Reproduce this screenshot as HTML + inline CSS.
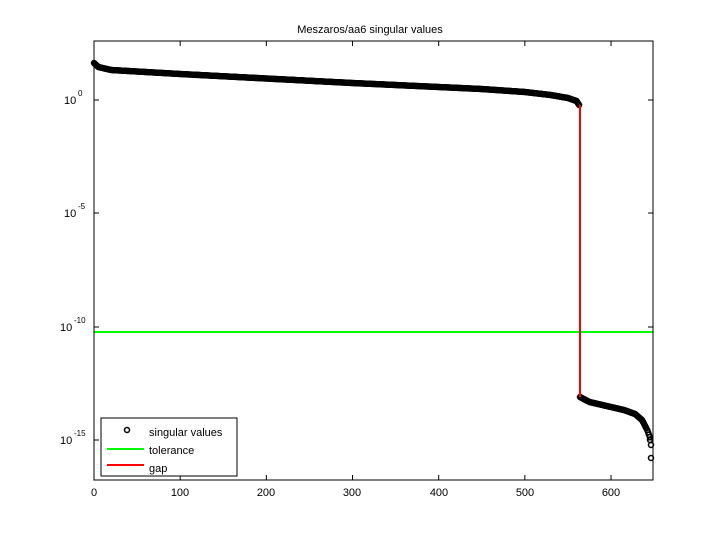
<!DOCTYPE html>
<html><head><meta charset="utf-8"><style>body{margin:0;background:#fff}svg{display:block}text{font-family:"Liberation Sans",sans-serif;fill:#000}</style></head><body>
<svg id="s" width="720" height="540" xmlns="http://www.w3.org/2000/svg">
<rect width="720" height="540" fill="#fff"/>
<text x="370" y="33" font-size="11" text-anchor="middle">Meszaros/aa6 singular values</text>
<g id="pts" fill="none" stroke="#000" stroke-width="1.5"></g>
<line x1="94" y1="332" x2="653" y2="332" stroke="#00ff00" stroke-width="2"/>
<line x1="580" y1="105" x2="580" y2="397" stroke="#ff0000" stroke-width="2"/>
<rect x="94" y="41" width="559" height="439" fill="none" stroke="#000" stroke-width="1"/>
<g id="ticks" stroke="#000" stroke-width="1"></g>
<g font-size="11" text-anchor="middle">
<text x="94" y="496">0</text><text x="180" y="496">100</text><text x="266" y="496">200</text><text x="352" y="496">300</text><text x="439" y="496">400</text><text x="525" y="496">500</text><text x="611" y="496">600</text>
</g>
<g font-size="11">
<text x="64" y="104">10</text><text x="78" y="96" font-size="8">0</text>
<text x="64" y="217">10</text><text x="78" y="209" font-size="8">-5</text>
<text x="60" y="331">10</text><text x="74" y="323" font-size="8">-10</text>
<text x="60" y="444">10</text><text x="74" y="436" font-size="8">-15</text>
</g>
<rect x="101" y="418" width="136" height="58" fill="#fff" stroke="#000" stroke-width="1"/>
<circle cx="127" cy="430" r="2.5" fill="none" stroke="#000" stroke-width="1.5"/>
<line x1="107" y1="449" x2="144" y2="449" stroke="#00ff00" stroke-width="2"/>
<line x1="107" y1="465" x2="144" y2="465" stroke="#ff0000" stroke-width="2"/>
<g font-size="11"><text x="149" y="436">singular values</text><text x="149" y="454">tolerance</text><text x="149" y="472">gap</text></g>
</svg>
<script>
var g=document.getElementById('pts'),t=document.getElementById('ticks'),h='',k='';
function X(i){return 94+i*0.8617;}
function lerp(a,b){var s=a[0],e=b[0];return function(i){return a[1]+(b[1]-a[1])*(i-s)/(e-s);};}
var up=[[0,63],[5,67],[20,70],[100,74],[300,83],[450,89],[500,92],[530,95],[550,98],[560,101],[563,105]];
var lo=[[564,397],[575,402],[600,407],[615,410],[628,414],[636,420],[642,430],[645,437]];
function interp(a,i){for(var j=0;j<a.length-1;j++)if(i<=a[j+1][0])return lerp(a[j],a[j+1])(i);return a[a.length-1][1];}
for(var i=0;i<=563;i++)h+='<circle cx="'+X(i).toFixed(1)+'" cy="'+interp(up,i).toFixed(1)+'" r="2.5"/>';
for(var i=564;i<=645;i++)h+='<circle cx="'+X(i).toFixed(1)+'" cy="'+interp(lo,i).toFixed(1)+'" r="2.5"/>';
h+='<circle cx="650" cy="440" r="2.5"/><circle cx="651" cy="445" r="2.5"/><circle cx="651" cy="458" r="2.5"/>';
g.innerHTML=h;
[0,100,200,300,400,500,600].forEach(function(v){var x=X(v);k+='<line x1="'+x+'" y1="480" x2="'+x+'" y2="475"/><line x1="'+x+'" y1="41" x2="'+x+'" y2="46"/>';});
[100,213,327,440].forEach(function(y){k+='<line x1="94" y1="'+y+'" x2="99" y2="'+y+'"/><line x1="653" y1="'+y+'" x2="648" y2="'+y+'"/>';});
t.innerHTML=k;
</script>
</body></html>
